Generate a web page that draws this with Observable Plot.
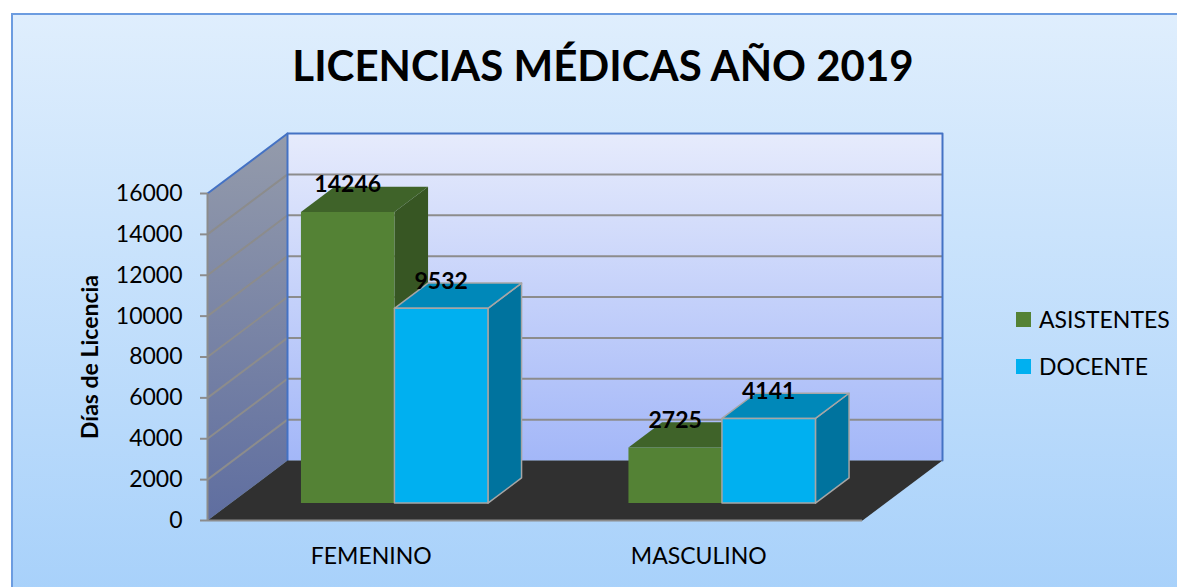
<!DOCTYPE html>
<html>
<head>
<meta charset="utf-8">
<script src="https://cdn.jsdelivr.net/npm/d3@7"></script>
<script src="https://cdn.jsdelivr.net/npm/@observablehq/plot@0.6"></script>
<style>
  html, body { margin: 0; padding: 0; background: #ffffff; }
  #wrap { position: relative; width: 1177px; height: 587px; overflow: hidden; background: #ffffff; font-family: Lato, "Open Sans", sans-serif; }
  #box { position: absolute; left: 11px; top: 13px; width: 1200px; height: 620px; border: 2px solid #6c9ce0; background: linear-gradient(to bottom, #dfeefd 0%, #a4cffa 100%); box-sizing: border-box; }
  #chart { position: absolute; left: 0; top: 0; }
  #title { position: absolute; left: 603px; top: 65px; transform: translate(-50%, -50%); font-weight: 700; font-size: 42px; color: #000; white-space: nowrap; }
  .leg { position: absolute; left: 1016px; display: flex; align-items: center; font-size: 23px; color: #000; white-space: nowrap; }
  .leg span.sw { display: inline-block; width: 15px; height: 15px; margin-right: 8px; }
</style>
</head>
<body>
<div id="wrap">
  <div id="box"></div>
  <div id="chart"></div>
  <div id="title">LICENCIAS MÉDICAS AÑO 2019</div>
  <div id="legend"></div>
</div>
<script>
// ---- data ----
const categories = ["FEMENINO", "MASCULINO"];
const series = ["ASISTENTES", "DOCENTE"];
const asistentes = [14246, 2725];
const docente = [9532, 4141];
const yTicks = [0, 2000, 4000, 6000, 8000, 10000, 12000, 14000, 16000];
const yMax = 16000;

// ---- styles ----
const frontColors = ["#548235", "#00b0f0"];
const topColors = ["#3f6329", "#0088b9"];
const sideColors = ["#375623", "#00739e"];
const edgeColors = ["none", "#a6a6a6"];

// ---- oblique 3D geometry (in data units) ----
const W = 1177, H = 587;
const mL = 207, mR = 315, mT = 193, mB = 67;
const pxPerU = (W - mL - mR) / categories.length;
const pxPerV = (H - mT - mB) / yMax;
const DU = 80 / pxPerU;          // x shift for full depth
const DV = 60 / pxPerV;          // y shift for full depth
const W0 = 0.29, W1 = 0.71;      // bar depth range
const GROUP = 0.571;             // width of a category's bar group
const P = (u, v, w) => ({x: u + w * DU, y: v + w * DV});

const values = [asistentes, docente];
const polys = [];
let id = 0;
function addPoly(pts, fill, stroke) {
  const k = id++;
  [...pts, pts[0]].forEach(p => polys.push({id: k, x: p.x, y: p.y, fill, stroke}));
}
// walls & floor
const wallPolys = [];
function addWall(pts, fill, stroke) {
  const k = "w" + wallPolys.length;
  [...pts, pts[0]].forEach(p => wallPolys.push({id: k, x: p.x, y: p.y, fill, stroke}));
}
const nC = categories.length;
addWall([P(0, 0, 0), P(0, yMax, 0), P(0, yMax, 1), P(0, 0, 1)], "url(#gLeft)", "none");
addWall([P(0, 0, 1), P(nC, 0, 1), P(nC, yMax, 1), P(0, yMax, 1)], "url(#gBack)", "none");
const floorPts = [];
[P(0, 0, 0), P(nC, 0, 0), P(nC, 0, 1), P(0, 0, 1), P(0, 0, 0)].forEach(p => floorPts.push({id: "f", x: p.x, y: p.y}));

// bars
const labels = [];
categories.forEach((c, i) => {
  series.forEach((s, j) => {
    const v = values[j][i];
    const u0 = i + 0.5 - GROUP / 2 + j * GROUP / 2;
    const u1 = u0 + GROUP / 2;
    addPoly([P(u1, 0, W0), P(u1, 0, W1), P(u1, v, W1), P(u1, v, W0)], sideColors[j], edgeColors[j]);
    addPoly([P(u0, v, W0), P(u1, v, W0), P(u1, v, W1), P(u0, v, W1)], topColors[j], edgeColors[j]);
    addPoly([P(u0, 0, W0), P(u1, 0, W0), P(u1, v, W0), P(u0, v, W0)], frontColors[j], edgeColors[j]);
    const c0 = P((u0 + u1) / 2, v, W0);
    labels.push({x: c0.x, y: c0.y, text: String(v)});
  });
});

const gridInner = yTicks.filter(t => t > 0 && t < yMax);

const plot = Plot.plot({
  width: W, height: H,
  marginLeft: mL, marginRight: mR, marginTop: mT, marginBottom: mB,
  x: {domain: [0, nC], axis: null},
  y: {domain: [0, yMax], axis: null},
  color: {type: "identity"},
  style: {background: "transparent", overflow: "visible", fontFamily: "Lato, 'Open Sans', sans-serif"},
  marks: [
    Plot.line(wallPolys, {x: "x", y: "y", z: "id", fill: "fill", stroke: "stroke"}),
    // back wall grid
    Plot.link(gridInner, {x1: P(0, 0, 1).x, x2: P(nC, 0, 1).x, y1: d => P(0, d, 1).y, y2: d => P(0, d, 1).y, stroke: "#8c8c8c", strokeWidth: 2}),
    // left wall grid
    Plot.link(gridInner, {x1: P(0, 0, 0).x, x2: P(0, 0, 1).x, y1: d => P(0, d, 0).y, y2: d => P(0, d, 1).y, stroke: "#8c8c8c", strokeWidth: 2}),
    // blue edges of walls
    Plot.line([P(0, yMax, 0), P(0, yMax, 1), P(nC, yMax, 1), P(nC, 0, 1)], {x: "x", y: "y", stroke: "#4472c4", strokeWidth: 2}),
    Plot.line([P(0, yMax, 1), P(0, 0, 1)], {x: "x", y: "y", stroke: "#4472c4", strokeWidth: 2}),
    // floor
    Plot.line(floorPts, {x: "x", y: "y", z: "id", fill: "#303030", stroke: "none"}),
    Plot.ruleY([0], {x1: 0, x2: nC, stroke: "#8c8c8c", strokeWidth: 2}),
    // y axis line
    Plot.ruleX([0], {y1: 0, y2: yMax, stroke: "#8c8c8c", strokeWidth: 2}),
    Plot.axisY({ticks: yTicks, tickSize: 7, tickPadding: 18, tickFormat: d => String(d), stroke: "#8c8c8c", strokeWidth: 2, fill: "#000", fontSize: 23, label: null}),
    // category labels
    Plot.text(categories, {x: (d, i) => i + 0.5, y: 0, dy: 36, text: d => d, fontSize: 23, fill: "#000", lineAnchor: "middle"}),
    // y title
    Plot.text(["Días de Licencia"], {frameAnchor: "left", dx: -117, rotate: -90, textAnchor: "middle", lineAnchor: "middle", text: d => d, fontSize: 23, fontWeight: "bold", fill: "#000"}),
    // bars
    Plot.line(polys, {x: "x", y: "y", z: "id", fill: "fill", stroke: "stroke", strokeWidth: 1.5, strokeLinejoin: "round"}),
    // value labels
    Plot.text(labels, {x: "x", y: "y", text: "text", dy: -27, fontSize: 23, fontWeight: "bold", fill: "#000", lineAnchor: "middle"})
  ]
});

// gradients
const ns = "http://www.w3.org/2000/svg";
const defs = document.createElementNS(ns, "defs");
defs.innerHTML = `
  <linearGradient id="gLeft" x1="0" y1="0" x2="0" y2="1">
    <stop offset="0" stop-color="#949bab"/>
    <stop offset="1" stop-color="#5f6ea0"/>
  </linearGradient>
  <linearGradient id="gBack" x1="0" y1="0" x2="0" y2="1">
    <stop offset="0" stop-color="#e6ebfc"/>
    <stop offset="1" stop-color="#a3b7f8"/>
  </linearGradient>`;
plot.insertBefore(defs, plot.firstChild);
document.getElementById("chart").appendChild(plot);

// legend
const leg = document.getElementById("legend");
series.forEach((s, j) => {
  const d = document.createElement("div");
  d.className = "leg";
  d.style.top = (320 + j * 47 - 15) + "px";
  d.innerHTML = `<span class="sw" style="background:${frontColors[j]}"></span><span>${s}</span>`;
  leg.appendChild(d);
});
</script>
</body>
</html>
